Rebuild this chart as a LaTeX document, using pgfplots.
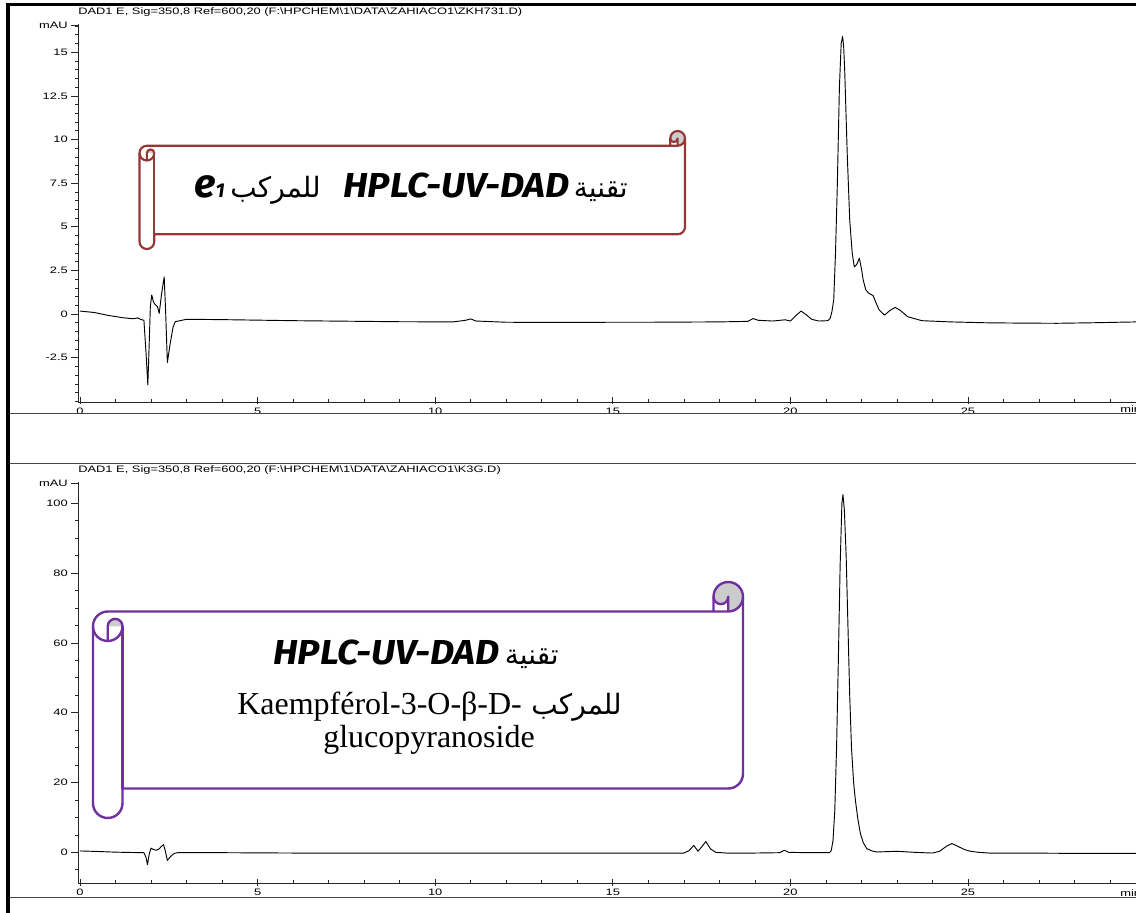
\documentclass[border=0pt]{standalone}
\usepackage{pgfplots}
\pgfplotsset{compat=1.18}
\usepackage{pgfplotstable}
\usepackage{graphicx}
\usepackage{fontspec}
\setmainfont{Liberation Sans}
\newfontfamily\serif{Liberation Serif}
\newfontfamily\hplc{Fira Sans}
\newfontfamily\arabicfont[Script=Arabic]{DejaVu Sans}
\TeXXeTstate=1

\definecolor{scrollred}{RGB}{149,55,53}
\definecolor{scrollviolet}{RGB}{112,48,160}
\definecolor{curl}{RGB}{204,204,204}
\definecolor{framegray}{RGB}{70,70,70}

\newcommand\sx[1]{\scalebox{1.38}[1]{#1}}
\newcommand\ar[1]{{\arabicfont\beginR #1\endR}}
\newcommand\hp[1]{\scalebox{1.08}[1]{\hplc\bfseries\itshape #1}}

% ZKH731.D  (e1)
\pgfplotstableread{
t mAU
0.00 0.17
0.40 0.09
0.80 -0.08
1.20 -0.21
1.50 -0.27
1.62 -0.22
1.70 -0.30
1.80 -0.36
1.86 -2.25
1.91 -4.06
1.95 -1.60
1.98 0.40
2.02 1.09
2.06 0.75
2.09 0.61
2.14 0.50
2.18 0.42
2.23 0.04
2.30 1.20
2.37 2.13
2.41 0.20
2.46 -2.78
2.54 -1.68
2.62 -0.75
2.68 -0.44
3.00 -0.30
4.00 -0.32
5.00 -0.35
6.00 -0.38
7.00 -0.40
8.00 -0.42
9.00 -0.44
10.50 -0.45
10.85 -0.36
11.00 -0.28
11.15 -0.40
12.00 -0.47
13.00 -0.48
14.00 -0.48
15.00 -0.47
16.00 -0.47
17.00 -0.46
18.00 -0.45
18.80 -0.42
18.95 -0.26
19.10 -0.36
19.50 -0.40
19.85 -0.33
20.00 -0.40
20.15 -0.10
20.30 0.17
20.45 -0.05
20.60 -0.30
20.80 -0.40
21.05 -0.38
21.12 -0.25
21.17 0.15
21.22 0.80
21.27 3.50
21.32 7.30
21.38 13.00
21.43 15.50
21.47 15.90
21.50 15.30
21.53 13.90
21.60 9.20
21.67 5.40
21.74 3.50
21.80 2.70
21.87 2.85
21.94 3.20
22.00 2.60
22.05 1.95
22.12 1.40
22.20 1.20
22.33 1.05
22.42 0.60
22.50 0.23
22.65 -0.06
22.80 0.20
22.95 0.38
23.10 0.20
23.30 -0.15
23.70 -0.38
24.50 -0.45
25.50 -0.50
26.50 -0.52
27.50 -0.53
28.50 -0.50
29.75 -0.45
}\zkh

% K3G.D  (Kaempferol-3-O-glucoside)
\pgfplotstableread{
t mAU
0.00 0.40
0.50 0.25
1.00 0.05
1.50 -0.05
1.80 -0.10
1.86 -1.50
1.90 -3.50
1.95 -0.50
2.00 1.20
2.07 0.80
2.14 0.60
2.22 0.90
2.30 1.80
2.35 2.20
2.40 0.50
2.46 -2.30
2.55 -1.20
2.65 -0.30
2.75 -0.10
4.00 -0.10
6.00 -0.20
8.00 -0.20
10.00 -0.25
12.00 -0.25
14.00 -0.25
16.00 -0.20
17.00 -0.20
17.15 0.50
17.28 2.00
17.40 0.30
17.52 1.80
17.62 3.10
17.75 1.00
17.90 0.00
18.20 -0.20
19.00 -0.20
19.70 -0.10
19.83 0.60
19.95 0.00
20.50 -0.10
21.10 -0.10
21.15 0.50
21.20 3.40
21.25 12.00
21.30 30.00
21.35 55.00
21.40 82.00
21.45 100.00
21.48 102.50
21.52 98.00
21.57 85.00
21.62 65.00
21.67 45.00
21.72 30.00
21.78 20.00
21.83 14.90
21.90 9.50
21.97 5.40
22.05 2.80
22.15 1.06
22.30 0.40
22.43 0.10
22.70 0.20
23.00 0.30
23.50 0.00
24.00 -0.20
24.20 0.30
24.40 1.80
24.55 2.50
24.70 1.80
24.90 0.80
25.07 0.30
25.30 0.00
25.60 -0.20
26.50 -0.20
28.00 -0.30
29.75 -0.30
}\kthreeg

\pgfplotsset{chrom/.style={
  scale only axis, width=793.5pt,
  xmin=-0.056, xmax=29.73,
  axis lines=left, axis line style={-, line width=0.6pt, black!85},
  tick align=outside, major tick length=5.25pt, minor tick length=2.6pt,
  tick style={line width=0.5pt, black!85},
  major x tick style={yshift=3.5pt},
  minor x tick style={yshift=2.6pt},
  xtick={0,5,...,25},
  xticklabels={\sx{0},\sx{5},\sx{10},\sx{15},\sx{20},\sx{25}},
  minor xtick={0,1,...,29},
  xticklabel style={inner sep=0pt, yshift=1pt},
  yticklabel style={inner sep=0pt, xshift=-2.2pt},
  tick label style={font=\fontsize{7}{8}\selectfont},
}}

% Word-like horizontal scroll, pixel units, y downwards
\newcommand\hscroll[7]{%
  \pgfmathsetmacro\sW{#3-#1}%
  \pgfmathsetmacro\sH{#4-#2}%
  \pgfmathsetmacro\sa{#5}%
  \pgfmathsetmacro\sb{#5/2}%
  \pgfmathsetmacro\sq{#5/4}%
  \pgfmathsetmacro\syc{1.5*#5}%
  \pgfmathsetmacro\syd{2*#5}%
  \pgfmathsetmacro\sye{\sH-1.5*#5}%
  \pgfmathsetmacro\syf{\sH-#5}%
  \pgfmathsetmacro\syg{\sH-#5/2}%
  \pgfmathsetmacro\sxc{\sW-#5}%
  \pgfmathsetmacro\sxd{\sW-#5/2}%
  \begin{scope}[shift={(#1,#2)}]
    \fill[white] (0,\syc) arc[start angle=180,delta angle=90,radius=\sb] -- (\sxc,\sa) -- (\sxc,\sb)
      arc[start angle=180,delta angle=180,radius=\sb] -- (\sW,\sye)
      arc[start angle=0,delta angle=90,radius=\sb] -- (\sa,\syf) -- (\sa,\syg)
      arc[start angle=0,delta angle=180,radius=\sb] -- cycle;
    \fill[curl] (\sb,\syc) arc[start angle=180,delta angle=180,radius=\sq] -- cycle;
    \fill[curl] (\sxd,\sa) arc[start angle=90,delta angle=-270,radius=\sb]
      arc[start angle=180,delta angle=-180,radius=\sq] -- cycle;
    \begin{scope}[draw=#6, line width=#7, line join=round]
    \draw (0,\syc) arc[start angle=180,delta angle=90,radius=\sb] -- (\sxc,\sa) -- (\sxc,\sb)
      arc[start angle=180,delta angle=180,radius=\sb] -- (\sW,\sye)
      arc[start angle=0,delta angle=90,radius=\sb] -- (\sa,\syf) -- (\sa,\syg)
      arc[start angle=0,delta angle=180,radius=\sb] -- cycle;
    \draw (\sxc,\sa) -- (\sxd,\sa) arc[start angle=90,delta angle=-90,radius=\sb];
    \draw (\sxd,\sa) -- (\sxd,\sb) arc[start angle=0,delta angle=180,radius=\sq];
    \draw (\sb,\syd) -- (\sb,\syc) arc[start angle=180,delta angle=180,radius=\sq]
      arc[start angle=0,delta angle=180,radius=\sb];
    \draw (\sa,\syc) -- (\sa,\syf);
    \end{scope}
  \end{scope}}

\begin{document}
\begin{tikzpicture}
\useasboundingbox (0,0) rectangle (852pt,-684.75pt);
\clip (0,0) rectangle (852pt,-684.75pt);

% top chromatogram
\begin{axis}[chrom, at={(58.5pt,-301.5pt)}, anchor=south west,
  height=283.5pt, ymin=-5.04, ymax=16.62,
  ytick={-2.5,0,...,15},
  yticklabels={\sx{-2.5},\sx{0},\sx{2.5},\sx{5},\sx{7.5},\sx{10},\sx{12.5},\sx{15}},
  minor ytick={-5,-4.5,...,16.5},
  extra y ticks={16.55}, extra y tick labels={\sx{mAU}}]
\addplot[black, no markers, line width=0.7pt, line join=round] table[x=t, y=mAU] {\zkh};
\end{axis}

% bottom chromatogram
\begin{axis}[chrom, at={(58.5pt,-662.5pt)}, anchor=south west,
  height=300.75pt, ymin=-8.88, ymax=106.0,
  ytick={0,20,...,100},
  yticklabels={\sx{0},\sx{20},\sx{40},\sx{60},\sx{80},\sx{100}},
  minor ytick={-5,0,...,100},
  extra y ticks={105.7}, extra y tick labels={\sx{mAU}}]
\addplot[black, no markers, line width=0.7pt, line join=round] table[x=t, y=mAU] {\kthreeg};
\end{axis}

\begin{scope}[x=0.75pt, y=-0.75pt]
  % page frame
  \fill[black] (6,3) rectangle (10,913);
  \fill[black] (6,3) rectangle (1136,6.5);
  \draw[framegray, line width=0.75pt] (10,413) -- (1136,413);
  \draw[framegray, line width=0.75pt] (10,463) -- (1136,463);
  \draw[framegray, line width=0.75pt] (10,897.5) -- (1136,897.5);

  % signal titles
  \node[anchor=base west, inner sep=0pt, font=\fontsize{7}{8}\selectfont] at (78,15)
    {\sx{DAD1 E, Sig=350,8 Ref=600,20 (F:\textbackslash HPCHEM\textbackslash 1\textbackslash DATA\textbackslash ZAHIACO1\textbackslash ZKH731.D)}};
  \node[anchor=base west, inner sep=0pt, font=\fontsize{7}{8}\selectfont] at (78,472)
    {\sx{DAD1 E, Sig=350,8 Ref=600,20 (F:\textbackslash HPCHEM\textbackslash 1\textbackslash DATA\textbackslash ZAHIACO1\textbackslash K3G.D)}};
  \node[anchor=base west, inner sep=0pt, font=\fontsize{7}{8}\selectfont] at (1120,412) {\sx{min}};
  \node[anchor=base west, inner sep=0pt, font=\fontsize{7}{8}\selectfont] at (1120,896) {\sx{min}};

  % scrolls
  \hscroll{139.5}{131}{685}{249}{14.75}{scrollred}{1.6pt}
  \hscroll{93}{582}{743}{818}{29.5}{scrollviolet}{1.8pt}

  % top scroll text
  \node[anchor=base east, inner sep=0pt] at (628,198) {\fontsize{21}{24}\selectfont\ar{تقنية}};
  \node[anchor=base east, inner sep=0pt] at (570,198) {\fontsize{26}{28}\selectfont\hp{HPLC-UV-DAD}};
  \node[anchor=base east, inner sep=0pt] at (321,198) {\fontsize{21}{24}\selectfont\ar{للمركب}};
  \node[anchor=base east, inner sep=0pt] at (225,198) {\fontsize{30}{30}\hplc\bfseries\itshape e\fontsize{15}{15}\selectfont 1};

  % bottom scroll text
  \node[anchor=base east, inner sep=0pt] at (559,664) {\fontsize{21}{24}\selectfont\ar{تقنية}};
  \node[anchor=base east, inner sep=0pt] at (500,664) {\fontsize{26}{28}\selectfont\hp{HPLC-UV-DAD}};
  \node[anchor=base west, inner sep=0pt] at (237,714) {\fontsize{24}{28}\serif Kaempférol-3-O-β-D-};
  \node[anchor=base east, inner sep=0pt] at (622,714) {\fontsize{21}{24}\selectfont\ar{للمركب}};
  \node[anchor=base, inner sep=0pt] at (429,747) {\fontsize{24}{28}\serif glucopyranoside};
\end{scope}
\end{tikzpicture}
\end{document}
